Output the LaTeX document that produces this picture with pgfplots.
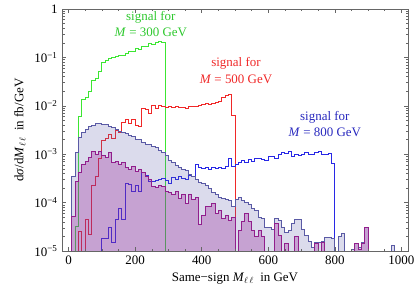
\documentclass[border=0pt]{standalone}
\usepackage{fontspec}
\setmainfont{Liberation Serif}
\usepackage{pgfplots}
\usepackage{pgfplotstable}
\pgfplotsset{compat=1.18}
\definecolor{sgreen}{RGB}{60,230,50}
\definecolor{tgreen}{RGB}{45,200,45}
\definecolor{sred}{RGB}{240,40,40}
\definecolor{sblue}{RGB}{40,40,230}
\definecolor{tblue}{RGB}{40,40,190}
\definecolor{bgone}{RGB}{90,90,170}
\definecolor{bgoneline}{RGB}{90,90,165}
\definecolor{bgtwo}{RGB}{150,30,150}
\definecolor{bgtwoline}{RGB}{145,30,140}

\pgfplotstableread{
x y
20 2e-6
20 3.2e-5
30 5.9e-3
40 0.0136
50 0.0145
60 0.020
70 0.034
80 0.037
90 0.050
100 0.079
110 0.085
120 0.094
130 0.100
140 0.103
150 0.108
160 0.112
170 0.120
180 0.132
190 0.130
200 0.150
210 0.145
220 0.168
230 0.172
240 0.190
250 0.184
260 0.200
270 0.210
280 0.205
290 2e-6
}\sigA

\pgfplotstableread{
x y
30 2e-6
30 2.5e-5
40 2e-6
50 4.4e-5
60 2.2e-5
70 2.3e-4
80 3.5e-4
90 8.0e-4
100 1.9e-3
110 2.1e-3
120 2.6e-3
130 2.1e-3
140 3.1e-3
150 2.8e-3
160 4.5e-3
170 5.3e-3
180 4.4e-3
190 5.1e-3
200 3.9e-3
210 3.8e-3
220 8.8e-3
230 8.2e-3
240 7.0e-3
250 1.0e-2
260 8.6e-3
270 1.03e-2
280 9.5e-3
290 9.2e-3
300 9.6e-3
310 9.3e-3
320 9.6e-3
330 9.3e-3
340 9.4e-3
350 8.8e-3
360 9.7e-3
370 9.9e-3
380 9.6e-3
390 1.02e-2
400 1.05e-2
410 1.13e-2
420 1.07e-2
430 1.10e-2
440 1.16e-2
450 1.20e-2
460 1.45e-2
470 1.60e-2
480 1.68e-2
490 6.4e-3
500 2e-6
}\sigB

\pgfplotstableread{
x y
100 2e-6
100 1.8e-5
110 1.8e-5
120 3.1e-5
130 1.5e-5
140 4.4e-5
150 7.7e-5
160 4.4e-5
170 2.5e-4
180 2.4e-4
190 1.7e-4
200 2.3e-4
210 1.7e-4
220 4.1e-4
230 3.6e-4
240 2.7e-4
250 2.7e-4
260 2.9e-4
270 3.0e-4
280 3.1e-4
290 2.8e-4
300 2.5e-4
310 3.3e-4
320 3.0e-4
330 3.4e-4
340 3.2e-4
350 3.0e-4
360 3.6e-4
370 3.4e-4
380 6.0e-4
390 5.2e-4
400 5.0e-4
410 5.3e-4
420 4.9e-4
430 5.2e-4
440 5.0e-4
450 5.3e-4
460 5.1e-4
470 5.6e-4
480 8.3e-4
490 5.6e-4
500 6.1e-4
510 6.6e-4
520 7.4e-4
530 6.7e-4
540 7.6e-4
550 7.0e-4
560 8.3e-4
570 8.1e-4
580 7.6e-4
590 7.4e-4
600 9.1e-4
610 8.9e-4
620 8.3e-4
630 9.8e-4
640 1.06e-3
650 1.04e-3
660 1.15e-3
670 9.1e-4
680 9.8e-4
690 9.6e-4
700 9.9e-4
710 1.1e-3
720 9.8e-4
730 9.7e-4
740 1.1e-3
750 1.15e-3
760 9.8e-4
770 1.0e-3
780 1.03e-3
790 6.5e-4
800 2e-6
}\sigC

\pgfplotstableread{
x y
10 2e-6
10 3.5e-4
20 1.1e-3
30 2.2e-3
40 2.8e-3
50 3.3e-3
60 3.7e-3
70 4.0e-3
80 4.3e-3
90 4.4e-3
100 4.2e-3
110 4.1e-3
120 3.8e-3
130 3.5e-3
140 3.3e-3
150 3.0e-3
160 2.8e-3
170 2.7e-3
180 2.4e-3
190 2.3e-3
200 2.0e-3
210 2.0e-3
220 1.75e-3
230 1.6e-3
240 1.6e-3
250 1.45e-3
260 1.4e-3
270 1.2e-3
280 1.1e-3
290 9.5e-4
300 7.5e-4
310 6.8e-4
320 5.8e-4
330 5.2e-4
340 4.8e-4
350 4.6e-4
360 3.8e-4
370 3.5e-4
380 3.0e-4
390 2.6e-4
400 2.5e-4
410 2.3e-4
420 2.0e-4
430 1.6e-4
440 1.5e-4
450 1.3e-4
460 1.2e-4
470 1.15e-4
480 1.1e-4
490 8.3e-5
500 1.15e-4
510 1.25e-4
520 1.1e-4
530 1.0e-4
540 9.0e-5
550 7.7e-5
560 7.0e-5
570 5.0e-5
580 4.7e-5
590 3.0e-5
600 3.0e-5
610 2.8e-5
620 4.7e-5
630 4.2e-5
640 3.0e-5
650 2.4e-5
660 2.6e-5
670 3.7e-5
680 4.4e-5
690 4.4e-5
700 2.8e-5
710 2.1e-5
720 1.6e-5
730 1.2e-5
740 1.5e-5
750 1.5e-5
760 1.6e-5
770 1.9e-5
780 1.9e-5
790 1.8e-5
800 2e-6
810 2.0e-5
820 2.3e-5
830 2e-6
850 1.05e-5
860 1.4e-5
870 1.2e-5
880 1.5e-5
890 3.0e-5
900 2e-6
970 1.3e-5
980 2e-6
}\bgA

\pgfplotstableread{
x y
10 2e-6
10 5.1e-5
20 2.7e-4
30 4.1e-4
40 6.0e-4
50 7.2e-4
60 8.4e-4
70 1.15e-3
80 1.0e-3
90 1.15e-3
100 9.3e-4
110 8.5e-4
120 1.07e-3
130 6.6e-4
140 7.2e-4
150 6.2e-4
160 6.6e-4
170 5.2e-4
180 4.8e-4
190 5.6e-4
200 4.3e-4
210 4.8e-4
220 4.1e-4
230 3.5e-4
240 3.0e-4
250 2.2e-4
260 2.1e-4
270 2.3e-4
280 2.2e-4
290 1.7e-4
300 1.6e-4
310 1.45e-4
320 1.7e-4
330 1.24e-4
340 1.5e-4
350 9.7e-5
360 1.45e-4
370 1.15e-4
380 1.3e-4
390 3.5e-5
400 5.5e-5
410 8.4e-5
420 8.4e-5
430 9.5e-5
440 6.0e-5
450 7.0e-5
460 4.6e-5
470 5.3e-5
480 4.2e-5
490 5.0e-5
500 2e-6
510 2.7e-5
520 4.0e-5
530 6.0e-5
540 4.0e-5
550 2.7e-5
560 2.0e-5
570 2.7e-5
580 2.0e-5
590 2e-6
620 3.7e-5
630 2.1e-5
640 2e-6
650 1.4e-5
660 2e-6
680 2.0e-5
690 2e-6
740 1.4e-5
750 2e-6
760 1.5e-5
770 2e-6
860 1.4e-5
870 1.1e-5
880 1.4e-5
890 3.0e-5
900 2e-6
}\bgB

\begin{document}
\fontsize{13}{15.6}\selectfont
\begin{tikzpicture}
\begin{axis}[
  scale only axis, width=346bp, height=242bp,
  xmin=-20, xmax=1020, ymin=1e-5, ymax=1, ymode=log,
  xtick={0,200,400,600,800,1000}, minor x tick num=3,
  ytick={1e-5,1e-4,1e-3,1e-2,1e-1,1},
  yticklabels={10\textsuperscript{−5},10\textsuperscript{−4},10\textsuperscript{−3},10\textsuperscript{−2},10\textsuperscript{−1},1},
  minor ytick={2e-5,3e-5,4e-5,5e-5,6e-5,7e-5,8e-5,9e-5,2e-4,3e-4,4e-4,5e-4,6e-4,7e-4,8e-4,9e-4,2e-3,3e-3,4e-3,5e-3,6e-3,7e-3,8e-3,9e-3,2e-2,3e-2,4e-2,5e-2,6e-2,7e-2,8e-2,9e-2,0.2,0.3,0.4,0.5,0.6,0.7,0.8,0.9},
  tick pos=both, xticklabel pos=lower, yticklabel pos=left,
  tick align=inside,
  major tick length=4bp, minor tick length=2.5bp,
  axis line style={black!60, line width=0.5pt},
  every tick/.style={black!60, line width=0.5pt},
  axis on top,
  /pgf/number format/assume math mode=true,
  /pgf/number format/1000 sep={},
  every tick label/.append style={font=\fontsize{13}{15}\selectfont},
  xlabel={Same−sign \textit{M}$_{\ell\,\ell}$\ \ in GeV},
  ylabel={d\textit{σ}/d\textit{M}$_{\ell\,\ell}$\ \ in fb/GeV},
  label style={font=\fontsize{13}{15}\selectfont},
  no marks,
]
\coordinate (ll) at (rel axis cs:0,0);
\addplot[const plot, draw=sgreen, line width=1pt] table {\sigA};
\addplot[const plot, draw=sred, line width=1pt] table {\sigB};
\addplot[const plot, draw=sblue, line width=1pt] table {\sigC};
\addplot[const plot, draw=none, fill=bgone, fill opacity=0.22] table {\bgA};
\addplot[const plot, draw=none, fill=bgtwo, fill opacity=0.3] table {\bgB};
\addplot[const plot, draw=bgoneline, line width=1pt] table {\bgA};
\addplot[const plot, draw=bgtwoline, line width=1pt] table {\bgB};
\node[text=tgreen, align=center, font=\fontsize{13}{16.5}\selectfont] at (axis cs:247,0.49) {signal for\\\textit{M} = 300 GeV};
\node[text=sred, align=center, font=\fontsize{13}{16.5}\selectfont] at (axis cs:503,0.054) {signal for\\\textit{M} = 500 GeV};
\node[text=tblue, align=center, font=\fontsize{13}{16.5}\selectfont] at (axis cs:770,4.2e-3) {signal for\\\textit{M} = 800 GeV};
\end{axis}
\pgfresetboundingbox
\path (ll) ++(-62bp,-51bp) rectangle ++(417bp,302bp);
\end{tikzpicture}
\end{document}
